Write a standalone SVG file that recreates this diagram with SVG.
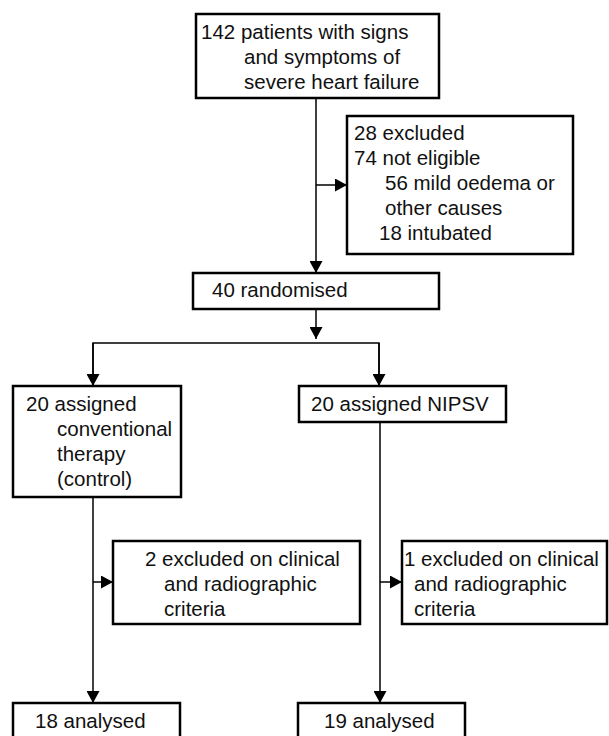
<svg xmlns="http://www.w3.org/2000/svg" width="609" height="736" viewBox="0 0 609 736">
<style>
.box{fill:#fff;stroke:#000;stroke-width:2.5}
.t{font-family:"Liberation Sans",Arial,sans-serif;font-size:20.5px;fill:#111}
.c{fill:none;stroke:#000;stroke-width:1.5}
</style>
<defs>
<marker id="ah" markerUnits="userSpaceOnUse" markerWidth="13" markerHeight="13" refX="12" refY="6.5" orient="auto">
<path d="M0,0 L12,6.5 L0,13 Z" fill="#000"/>
</marker>
</defs>
<rect width="609" height="736" fill="#fff"/>
<g id="connectors">
<line class="c" x1="316" y1="98" x2="316" y2="273" marker-end="url(#ah)"/>
<line class="c" x1="316" y1="185" x2="347" y2="185" marker-end="url(#ah)"/>
<line class="c" x1="316" y1="309" x2="316" y2="339" marker-end="url(#ah)"/>
<polyline class="c" points="93,386 93,343 379,343 379,386"/>
<line class="c" x1="93" y1="343" x2="93" y2="386" marker-end="url(#ah)"/>
<line class="c" x1="379" y1="343" x2="379" y2="386" marker-end="url(#ah)"/>
<line class="c" x1="93" y1="497" x2="93" y2="703" marker-end="url(#ah)"/>
<line class="c" x1="93" y1="582" x2="113" y2="582" marker-end="url(#ah)"/>
<line class="c" x1="380" y1="422" x2="380" y2="703" marker-end="url(#ah)"/>
<line class="c" x1="380" y1="582" x2="402" y2="582" marker-end="url(#ah)"/>
</g>
<g id="n-screened">
<rect class="box" x="196" y="14" width="243" height="84"/>
<text class="t" x="201" y="39">142 patients with signs</text>
<text class="t" x="244" y="64">and symptoms of</text>
<text class="t" x="244" y="89">severe heart failure</text>
</g>
<g id="n-excluded">
<rect class="box" x="347" y="116" width="226" height="138"/>
<text class="t" x="354" y="140">28 excluded</text>
<text class="t" x="354" y="165">74 not eligible</text>
<text class="t" x="385" y="190">56 mild oedema or</text>
<text class="t" x="385" y="215">other causes</text>
<text class="t" x="379" y="240">18 intubated</text>
</g>
<g id="n-randomised">
<rect class="box" x="193" y="273" width="246" height="36"/>
<text class="t" x="212" y="297">40 randomised</text>
</g>
<g id="n-control">
<rect class="box" x="13" y="386" width="168" height="111"/>
<text class="t" x="26" y="411">20 assigned</text>
<text class="t" x="57" y="436">conventional</text>
<text class="t" x="57" y="461">therapy</text>
<text class="t" x="57" y="486">(control)</text>
</g>
<g id="n-nipsv">
<rect class="box" x="299" y="386" width="207" height="36"/>
<text class="t" x="311" y="411">20 assigned NIPSV</text>
</g>
<g id="n-excl-control">
<rect class="box" x="113" y="541" width="247" height="83"/>
<text class="t" x="145" y="566">2 excluded on clinical</text>
<text class="t" x="164" y="591">and radiographic</text>
<text class="t" x="164" y="616">criteria</text>
</g>
<g id="n-excl-nipsv">
<rect class="box" x="402" y="541" width="205" height="83"/>
<text class="t" x="404" y="566">1 excluded on clinical</text>
<text class="t" x="414" y="591">and radiographic</text>
<text class="t" x="414" y="616">criteria</text>
</g>
<g id="n-analysed-control">
<rect class="box" x="13" y="703" width="167" height="45"/>
<text class="t" x="35" y="728">18 analysed</text>
</g>
<g id="n-analysed-nipsv">
<rect class="box" x="298" y="703" width="167" height="45"/>
<text class="t" x="324" y="728">19 analysed</text>
</g>
</svg>
